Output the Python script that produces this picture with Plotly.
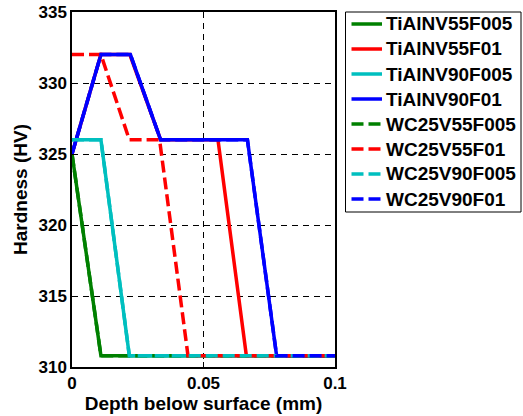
import plotly.graph_objects as go

names = ["TiAlNV55F005", "TiAlNV55F01", "TiAlNV90F005", "TiAlNV90F01",
         "WC25V55F005", "WC25V55F01", "WC25V90F005", "WC25V90F01"]
colors = ["#008000", "#ff0000", "#00bfbf", "#0000ff",
          "#008000", "#ff0000", "#00bfbf", "#0000ff"]
dashes = ["solid"] * 4 + ["dash"] * 4

x_v55f005 = [0, 0.011, 0.1]
y_v55f005 = [325, 310.8, 310.8]
x_v55f01 = [0, 0.011, 0.022, 0.0337, 0.0555, 0.0663, 0.1]
y_v55f01 = [325, 332, 332, 326, 326, 310.8, 310.8]
x_v90f005 = [0, 0.011, 0.0218, 0.1]
y_v90f005 = [326, 326, 310.8, 310.8]
x_v90f01 = [0, 0.011, 0.0222, 0.0337, 0.0667, 0.0778, 0.1]
y_v90f01 = [325, 332, 332, 326, 326, 310.8, 310.8]

x_wc55f005 = [0, 0.011, 0.1]
y_wc55f005 = [325, 310.8, 310.8]
x_wc55f01 = [0, 0.011, 0.0218, 0.0333, 0.0441, 0.1]
y_wc55f01 = [332, 332, 326, 326, 310.8, 310.8]
x_wc90f005 = [0, 0.011, 0.0218, 0.1]
y_wc90f005 = [326, 326, 310.8, 310.8]
x_wc90f01 = [0, 0.011, 0.0222, 0.0337, 0.0667, 0.0778, 0.1]
y_wc90f01 = [325, 332, 332, 326, 326, 310.8, 310.8]

xs = [x_v55f005, x_v55f01, x_v90f005, x_v90f01, x_wc55f005, x_wc55f01, x_wc90f005, x_wc90f01]
ys = [y_v55f005, y_v55f01, y_v90f005, y_v90f01, y_wc55f005, y_wc55f01, y_wc90f005, y_wc90f01]

x_ticks = [0, 0.05, 0.1]
x_ticklabels = ["0", "0.05", "0.1"]
y_ticks = [310, 315, 320, 325, 330, 335]

W, H = 523, 416
ML, MR, MT, MB = 72, 188, 12, 49
PW, PH = W - ML - MR, H - MT - MB


def px(xp):
    return (xp - ML) / PW


def py(yp):
    return (H - MB - yp) / PH


DASH = "12px,5px"

fig = go.Figure()
for n, c, d, x, y in zip(names, colors, dashes, xs, ys):
    fig.add_trace(go.Scatter(x=x, y=y, mode="lines", name=n, showlegend=False,
                             line=dict(color=c, width=3.5,
                                       dash=(DASH if d == "dash" else "solid"))))

font_family = "Liberation Sans, Arial, sans-serif"

# manual legend (box, samples, labels)
shapes = [dict(type="rect", xref="paper", yref="paper",
               x0=px(345.5), x1=px(521), y0=py(212), y1=py(12),
               line=dict(color="black", width=1), fillcolor="white", layer="above")]
annotations = []
for i, (n, c, d) in enumerate(zip(names, colors, dashes)):
    yc = 24 + 25 * i
    shapes.append(dict(type="line", xref="paper", yref="paper",
                       x0=px(351.5), x1=px(382), y0=py(yc), y1=py(yc),
                       line=dict(color=c, width=3.5, dash=(DASH if d == "dash" else "solid")),
                       layer="above"))
    annotations.append(dict(text="<b>%s</b>" % n, xref="paper", yref="paper",
                            x=px(384), y=py(yc), xanchor="left", yanchor="middle",
                            showarrow=False,
                            font=dict(family=font_family, size=19, color="black")))

fig.update_layout(
    width=W, height=H,
    margin=dict(l=ML, r=MR, t=MT, b=MB, autoexpand=False),
    paper_bgcolor="white", plot_bgcolor="white",
    font=dict(family=font_family, size=17, color="black"),
    showlegend=False,
    shapes=shapes, annotations=annotations,
)
fig.update_xaxes(range=[0, 0.1], tickvals=x_ticks, ticktext=x_ticklabels,
                 showline=True, linecolor="black", linewidth=1.5, mirror=True,
                 showgrid=True, gridcolor="black", griddash="6px,5px", gridwidth=1,
                 zeroline=False, ticks="inside", ticklen=5, tickcolor="black",
                 tickfont=dict(size=17, weight="bold"),
                 title=dict(text="<b>Depth below surface (mm)</b>", font=dict(size=19), standoff=0))
fig.update_yaxes(range=[310, 335], tickvals=y_ticks,
                 showline=True, linecolor="black", linewidth=1.5, mirror=True,
                 showgrid=True, gridcolor="black", griddash="6px,5px", gridwidth=1,
                 zeroline=False, ticks="inside", ticklen=5, tickcolor="black",
                 tickfont=dict(size=17, weight="bold"),
                 title=dict(text="<b>Hardness (HV)</b>", font=dict(size=19), standoff=6))

fig.write_html("out.html")
